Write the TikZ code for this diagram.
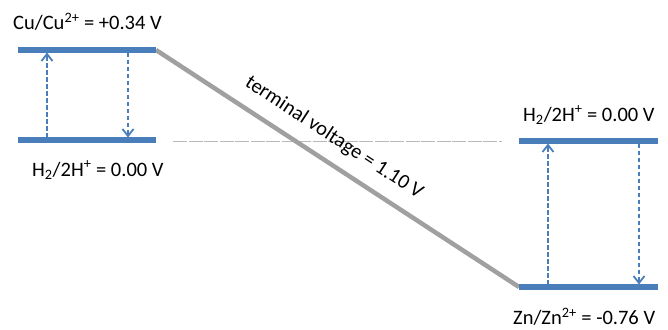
\documentclass[tikz,border=0pt]{standalone}
\usepackage{fontspec}
\setmainfont{Carlito}
\usetikzlibrary{calc}
\definecolor{levelblue}{RGB}{74,126,187}
\definecolor{wiregray}{RGB}{160,160,160}
\definecolor{refgray}{RGB}{185,185,185}
\begin{document}
\begin{tikzpicture}[x=1pt,y=-1pt,
  level/.style={levelblue,line width=5.5pt},
  transition/.style={levelblue,line width=1.8pt,dash pattern=on 4.5pt off 2.5pt},
  barb/.style={levelblue,line width=1.8pt,line join=miter},
  lbl/.style={font=\fontsize{20.5}{24}\selectfont,inner sep=0pt,text=black}]
\useasboundingbox (0,0) rectangle (668,329);
% energy levels of the two half cells
\coordinate (cuL) at (18,50);   \coordinate (cuR) at (156,50);
\coordinate (h1L) at (18,140);  \coordinate (h1R) at (156,140);
\coordinate (h2L) at (519,141); \coordinate (h2R) at (658,141);
\coordinate (znL) at (519,287); \coordinate (znR) at (658,287);
% zero reference line
\coordinate (z0) at (173,141); \coordinate (z1) at (502,141);
\draw[refgray,line width=0.9pt,dash pattern=on 14pt off 1.5pt] (z0) -- (z1);
% connecting wire
\draw[wiregray,line width=4.5pt] (cuR) -- (znL);
\node[lbl,rotate=-33.1] (tv) at (334,138) {terminal voltage = 1.10 V};
\draw[level] (cuL) -- (cuR);
\draw[level] (h1L) -- (h1R);
\draw[level] (h2L) -- (h2R);
\draw[level] (znL) -- (znR);
% transitions between levels (dashed shaft + open barb)
\coordinate (a1s) at (47,137.5);  \coordinate (a1e) at (47,54);
\coordinate (a2s) at (128,52.5);  \coordinate (a2e) at (128,136);
\coordinate (a3s) at (548,284.5); \coordinate (a3e) at (548,145);
\coordinate (a4s) at (639,143.5); \coordinate (a4e) at (639,283);
\draw[transition] (a1s) -- (a1e);
\draw[transition] (a2s) -- (a2e);
\draw[transition] (a3s) -- (a3e);
\draw[transition] (a4s) -- (a4e);
\draw[barb] ($(a1e)+(-5.5,7)$) -- (a1e) -- ($(a1e)+(5.5,7)$);
\draw[barb] ($(a2e)+(-5.5,-7)$) -- (a2e) -- ($(a2e)+(5.5,-7)$);
\draw[barb] ($(a3e)+(-5.5,7)$) -- (a3e) -- ($(a3e)+(5.5,7)$);
\draw[barb] ($(a4e)+(-5.5,-7)$) -- (a4e) -- ($(a4e)+(5.5,-7)$);
% labels
\node[lbl,anchor=west] (cu) at (13,22) {Cu/Cu\textsuperscript{2+} = +0.34 V};
\node[lbl,anchor=west] (h1) at (32,170) {H\textsubscript{2}/2H\textsuperscript{+} = 0.00 V};
\node[lbl,anchor=west] (h2) at (523,115) {H\textsubscript{2}/2H\textsuperscript{+} = 0.00 V};
\node[lbl,anchor=west] (zn) at (513,317) {Zn/Zn\textsuperscript{2+} = -0.76 V};
\end{tikzpicture}
\end{document}
